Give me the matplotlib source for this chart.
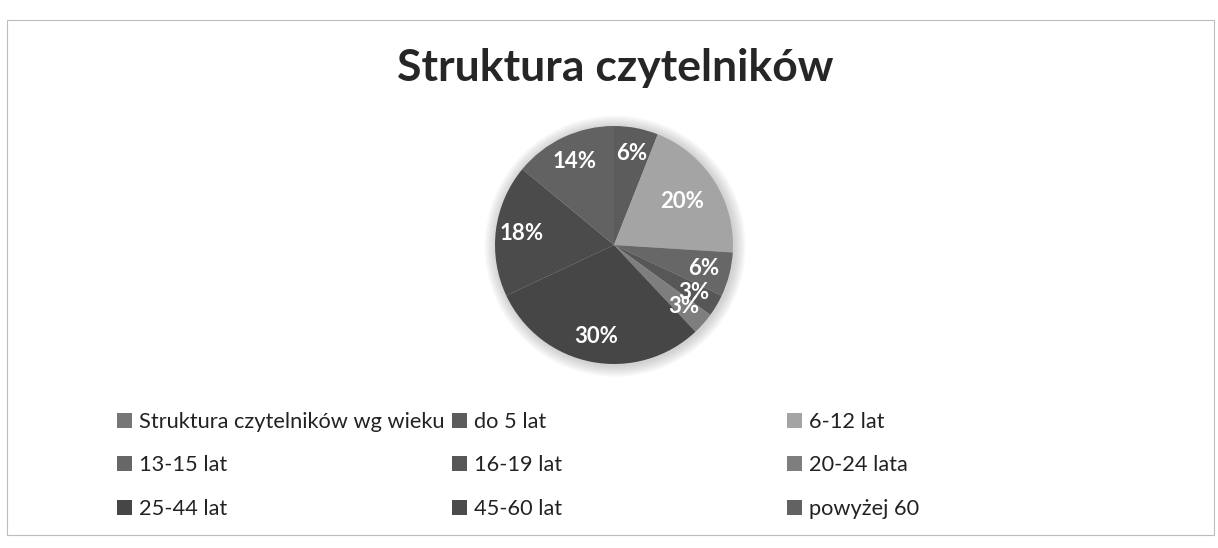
import matplotlib.pyplot as plt
from matplotlib.patches import Circle, Rectangle

plt.rcParams["font.family"] = ["Lato", "DejaVu Sans"]

categories = ["Struktura czytelników wg wieku", "do 5 lat", "6-12 lat", "13-15 lat",
              "16-19 lat", "20-24 lata", "25-44 lat", "45-60 lat", "powyżej 60"]
shares = [0, 6, 20, 6, 3, 3, 30, 18, 14]
colors = ["#767676", "#5c5c5c", "#a4a4a4", "#676767", "#575757",
          "#7e7e7e", "#464646", "#4b4b4b", "#626262"]
title = "Struktura czytelników"

W, H = 1218, 548
fig = plt.figure(figsize=(W / 100, H / 100), dpi=100)

# pie placement (pixels)
cx, cy, R = 614, 245, 119
pad = 1.15
ax = fig.add_axes([(cx - R * pad) / W, (H - cy - R * pad) / H, 2 * R * pad / W, 2 * R * pad / H])

# soft glow behind the pie
for k in range(8):
    ax.add_patch(Circle((0.01, -0.01), 1.0 + 0.012 * (k + 1), color="#888888", alpha=0.05, lw=0, zorder=0))

wedges, texts, autotexts = ax.pie(
    shares, colors=colors, startangle=90, counterclock=False, radius=1,
    autopct=lambda p: f"{p:.0f}%" if p > 0.5 else "", pctdistance=0.78,
    textprops=dict(color="white", fontsize=16, fontweight="bold"),
)
# 20% label sits closer to centre
x, y = autotexts[2].get_position()
autotexts[2].set_position((x * 0.68 / 0.78, y * 0.68 / 0.78))
ax.set_xlim(-pad, pad)
ax.set_ylim(-pad, pad)
ax.set_aspect("equal")
ax.axis("off")

fig.text(615 / W, 1 - 68 / H, title, ha="center", va="center",
         fontsize=32, fontweight="bold", color="#262626")

# legend, row by row
col_x = [117, 452, 787]
row_y = [422, 465, 509]
for i, cat in enumerate(categories):
    r, c = divmod(i, 3)
    fig.legend([wedges[i]], [cat], loc="center left",
               bbox_to_anchor=(col_x[c] / W, 1 - row_y[r] / H),
               frameon=False, borderpad=0, borderaxespad=0,
               handlelength=0.7, handleheight=0.7, handletextpad=0.3,
               fontsize=15.7, labelcolor="#222222")

# thin frame around the chart area
fig.patches.append(Rectangle((7 / W, 1 - 535 / H), (1214 - 7) / W, (535 - 20) / H,
                             transform=fig.transFigure, fill=False, ec="#bdbdbd", lw=0.8))

fig.savefig("out.png", dpi=100)
